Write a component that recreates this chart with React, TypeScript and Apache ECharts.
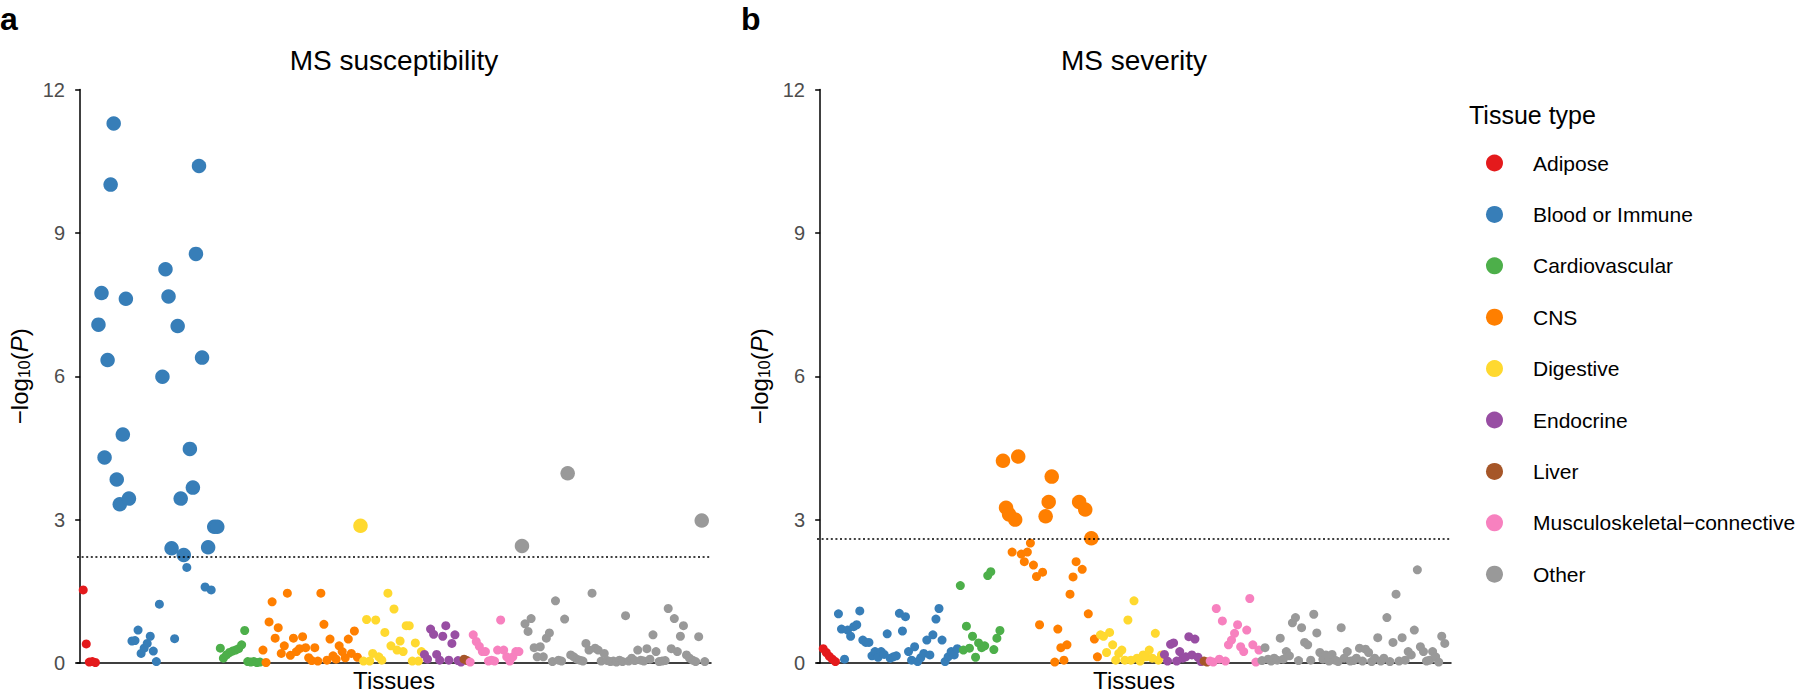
import React, { useEffect, useRef } from "react";
import * as echarts from "echarts";

const FONT = "'Liberation Sans', Arial, Helvetica, sans-serif";

const tissueTypes = [
  "Adipose",
  "Blood or Immune",
  "Cardiovascular",
  "CNS",
  "Digestive",
  "Endocrine",
  "Liver",
  "Musculoskeletal\u2212connective",
  "Other",
];
const tissueColors = ["#E41A1C", "#377EB8", "#4DAF4A", "#FF7F00", "#FFD92F", "#984EA3", "#A65628", "#F781BF", "#999999"];
// number of tissues in each type, in plotting order (205 in total)
const tissueCounts = [5, 40, 14, 32, 21, 13, 2, 17, 61];

// -log10(P) per tissue, panel a (MS susceptibility)
const msSusceptibility = [
  // Adipose
  1.53, 0.40, 0.02, 0.03, 0.01,
  // Blood or Immune
  7.08, 7.74, 4.30, 6.34, 10.01, 11.29, 3.84, 3.32, 4.78, 7.62,
  3.44, 0.46, 0.47, 0.69, 0.20, 0.31, 0.41, 0.56, 0.25, 0.03,
  1.23, 5.99, 8.24, 7.67, 2.40, 0.51, 7.05, 3.44, 2.26, 2.00,
  4.48, 3.67, 8.56, 10.40, 6.39, 1.59, 2.42, 1.53, 2.85, 2.85,
  // Cardiovascular
  0.31, 0.10, 0.17, 0.22, 0.25, 0.27, 0.30, 0.38, 0.68, 0.03, 0.02, 0.03, 0.01, 0.02,
  // CNS
  0.27, 0.01, 0.86, 1.28, 0.52, 0.74, 0.20, 0.36, 1.46, 0.16,
  0.52, 0.24, 0.30, 0.55, 0.32, 0.11, 0.05, 0.32, 0.04, 1.46,
  0.81, 0.06, 0.50, 0.15, 0.08, 0.36, 0.24, 0.11, 0.50, 0.20,
  0.67, 0.12,
  // Digestive
  2.87, 0.04, 0.91, 0.04, 0.20, 0.90, 0.13, 0.06, 0.64, 1.46,
  0.36, 1.13, 0.27, 0.46, 0.24, 0.78, 0.78, 0.04, 0.42, 0.04, 0.24,
  // Endocrine
  0.18, 0.08, 0.71, 0.60, 0.18, 0.06, 0.56, 0.78, 0.06, 0.41, 0.59, 0.05, 0.02,
  // Liver
  0.08, 0.05,
  // Musculoskeletal-connective
  0.02, 0.59, 0.45, 0.35, 0.24, 0.24, 0.04, 0.06, 0.04, 0.27, 0.90, 0.27, 0.13, 0.04, 0.13, 0.24, 0.24,
  // Other
  2.45, 0.82, 0.66, 0.93, 0.32, 0.13, 0.34, 0.13, 0.52, 0.63,
  0.03, 1.30, 0.06, 0.04, 0.92, 3.97, 0.17, 0.13, 0.08, 0.06,
  0.04, 0.41, 0.27, 1.46, 0.31, 0.27, 0.04, 0.20, 0.05, 0.03,
  0.04, 0.02, 0.06, 0.03, 0.99, 0.04, 0.10, 0.05, 0.27, 0.06,
  0.04, 0.30, 0.08, 0.59, 0.24, 0.03, 0.04, 0.05, 1.14, 0.30,
  0.93, 0.24, 0.56, 0.78, 0.17, 0.10, 0.06, 0.03, 0.55, 2.98,
  0.03,
];

// -log10(P) per tissue, panel b (MS severity)
const msSeverity = [
  // Adipose
  0.30, 0.22, 0.14, 0.08, 0.03,
  // Blood or Immune
  1.03, 0.71, 0.08, 0.69, 0.56, 0.76, 0.80, 1.09, 0.48, 0.43,
  0.43, 0.15, 0.24, 0.12, 0.24, 0.18, 0.61, 0.10, 0.13, 0.15,
  1.04, 0.67, 0.97, 0.24, 0.06, 0.34, 0.03, 0.11, 0.20, 0.48,
  0.17, 0.59, 0.92, 1.14, 0.48, 0.03, 0.13, 0.24, 0.17, 0.30,
  // Cardiovascular
  1.62, 0.27, 0.77, 0.31, 0.56, 0.12, 0.42, 0.32, 0.36, 1.83, 1.91, 0.28, 0.52, 0.68,
  // CNS
  4.23, 3.25, 3.11, 2.32, 3.00, 4.32, 2.28, 2.12, 2.32, 2.51,
  2.05, 1.81, 0.80, 1.90, 3.07, 3.37, 3.90, 0.02, 0.71, 0.32,
  0.06, 0.38, 1.44, 1.80, 2.12, 3.37, 1.96, 3.21, 1.03, 2.61,
  0.50, 0.13,
  // Digestive
  0.59, 0.56, 0.22, 0.64, 0.38, 0.06, 0.20, 0.27, 0.06, 0.90,
  0.06, 1.30, 0.10, 0.04, 0.17, 0.13, 0.27, 0.10, 0.62, 0.06, 0.17,
  // Endocrine
  0.18, 0.04, 0.39, 0.42, 0.04, 0.24, 0.10, 0.13, 0.55, 0.17, 0.50, 0.12, 0.03,
  // Liver
  0.04, 0.02,
  // Musculoskeletal-connective
  0.04, 0.02, 1.14, 0.08, 0.88, 0.04, 0.38, 0.48, 0.62, 0.80, 0.34, 0.24, 0.69, 1.35, 0.38, 0.02, 0.27,
  // Other
  0.05, 0.32, 0.08, 0.04, 0.10, 0.06, 0.52, 0.08, 0.24, 0.15,
  0.84, 0.95, 0.05, 0.74, 0.43, 0.38, 0.06, 1.02, 0.63, 0.22,
  0.08, 0.17, 0.04, 0.18, 0.06, 0.03, 0.74, 0.10, 0.24, 0.04,
  0.05, 0.10, 0.31, 0.04, 0.29, 0.22, 0.03, 0.10, 0.53, 0.04,
  0.10, 0.95, 0.03, 0.43, 1.44, 0.04, 0.53, 0.06, 0.24, 0.17,
  0.69, 1.95, 0.34, 0.24, 0.04, 0.06, 0.24, 0.13, 0.02, 0.56,
  0.41,
];

const panelTitles = ["MS susceptibility", "MS severity"];
const panelLetters = ["a", "b"];
const thresholds = [2.23, 2.6];
const yTicks = [0, 3, 6, 9, 12];

function buildSeries(values: number[], panel: number) {
  let start = 0;
  const thr = thresholds[panel];
  return tissueTypes.map((name, k) => {
    const n = tissueCounts[k];
    const data: number[][] = [];
    for (let i = 0; i < n; i++) data.push([start + i + 1, values[start + i]]);
    start += n;
    const s: any = {
      type: "scatter",
      name,
      xAxisIndex: panel,
      yAxisIndex: panel,
      data,
      symbol: "circle",
      symbolSize: (v: number[]) => (v[1] >= thr ? 14.5 : 9),
      itemStyle: { color: tissueColors[k], opacity: 1 },
      emphasis: { disabled: true },
      silent: true,
      z: 2,
    };
    if (k === tissueTypes.length - 1) {
      s.markLine = {
        silent: true,
        symbol: ["none", "none"],
        label: { show: false },
        lineStyle: { color: "#000", width: 1.7, type: [2, 2.6] },
        data: [{ yAxis: thr }],
        z: 5,
      };
    }
    return s;
  });
}

export default function App() {
  const ref = useRef<HTMLDivElement>(null);
  useEffect(() => {
    if (!ref.current) return;
    const chart = echarts.init(ref.current, undefined, { renderer: "svg" });
    const gridLefts = [77, 817];
    const axisLine = { show: true, lineStyle: { color: "#000", width: 1.5 } };
    const option: any = {
      animation: false,
      textStyle: { fontFamily: FONT },
      title: [
        ...panelLetters.map((t, i) => ({
          text: t,
          left: i === 0 ? 0 : 741,
          top: 5,
          padding: 0,
          textStyle: { fontSize: 32, lineHeight: 28, fontWeight: "bold", color: "#000", fontFamily: FONT },
        })),
        ...panelTitles.map((t, i) => ({
          text: t,
          left: gridLefts[i] + 317,
          top: 46,
          padding: 0,
          textAlign: "center",
          textStyle: { fontSize: 28, fontWeight: "normal", color: "#000", fontFamily: FONT },
        })),
        {
          text: "Tissue type",
          left: 1469,
          top: 102,
          padding: 0,
          textStyle: { fontSize: 25, fontWeight: "normal", color: "#000", fontFamily: FONT },
        },
      ],
      legend: {
        orient: "vertical",
        left: 1486,
        top: 152.5,
        padding: 0,
        icon: "circle",
        itemWidth: 17,
        itemHeight: 17,
        itemGap: 30.4,
        selectedMode: false,
        data: tissueTypes,
        textStyle: { fontSize: 21, color: "#000", fontFamily: FONT, lineHeight: 17, padding: [0, 0, 0, 25] },
      },
      grid: gridLefts.map((l) => ({ left: l, top: 89.5, width: 634, height: 573.5, containLabel: false, outerBoundsMode: "none" })),
      xAxis: gridLefts.map((_, i) => ({
        type: "value",
        gridIndex: i,
        min: -1.04,
        max: 207.04,
        axisLine,
        axisTick: { show: false },
        axisLabel: { show: false },
        splitLine: { show: false },
        name: "Tissues",
        nameLocation: "middle",
        nameGap: 7.5,
        nameTextStyle: { fontSize: 24, lineHeight: 20, color: "#000", fontFamily: FONT },
      })),
      yAxis: gridLefts.map((_, i) => ({
        type: "value",
        gridIndex: i,
        min: yTicks[0],
        max: yTicks[yTicks.length - 1],
        interval: 3,
        axisLine,
        axisTick: { show: true, length: 5, lineStyle: { color: "#000", width: 1.5 } },
        axisLabel: { fontSize: 20, color: "#4D4D4D", margin: 12, fontFamily: FONT },
        splitLine: { show: false },
        name: "\u2212log{sub|10}({it|P})",
        nameLocation: "middle",
        nameGap: 45,
        nameTextStyle: {
          fontSize: 24,
          color: "#000",
          fontFamily: FONT,
          rich: {
            sub: { fontSize: 16, color: "#000", fontFamily: FONT, verticalAlign: "bottom", padding: [10, 0, 0, 0] },
            it: { fontSize: 24, color: "#000", fontFamily: FONT, fontStyle: "italic" },
          },
        },
      })),
      series: [...buildSeries(msSusceptibility, 0), ...buildSeries(msSeverity, 1)],
    };
    chart.setOption(option);
    return () => chart.dispose();
  }, []);
  return (
    <div
      ref={ref}
      style={{ position: "absolute", left: 0, top: 0, width: 1800, height: 695, background: "#fff" }}
    />
  );
}
